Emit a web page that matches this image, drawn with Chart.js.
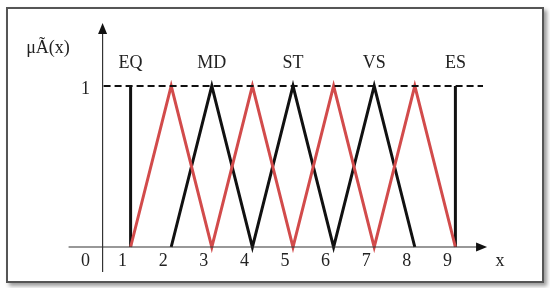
<!DOCTYPE html>
<html>
<head>
<meta charset="utf-8">
<script src="https://cdn.jsdelivr.net/npm/chart.js@4.4.1/dist/chart.umd.min.js"></script>
<style>
    html, body { margin: 0; padding: 0; background: #fff; }
    #wrap { position: relative; width: 550px; height: 288px; }
    #frame {
        position: absolute; left: 6px; top: 7px; width: 534px; height: 272px;
        border: 2px solid #555; box-shadow: 3px 3px 4px #999; background: #fff;
    }
    canvas { position: absolute; left: 0; top: 0; }
</style>
</head>
<body>
<div id="wrap">
    <div id="frame"></div>
    <canvas id="chart" width="550" height="288"></canvas>
</div>
<script>
// Tick labels on the x axis and the membership axis
const xTickLabels = ['1', '2', '3', '4', '5', '6', '7', '8', '9'];
const xTickValues = [1, 2, 3, 4, 5, 6, 7, 8, 9];
const yTickLabels = ['1'];

// Linguistic terms and where they sit
const terms = ['EQ', 'MD', 'ST', 'VS', 'ES'];
const termPeaks = [1, 3, 5, 7, 9];

// Red zigzag (triangles peaking at 2, 4, 6, 8)
const redX = [1, 2, 3, 4, 5, 6, 7, 8, 9];
const redY = [0, 1, 0, 1, 0, 1, 0, 1, 0];

// Black zigzag (triangles peaking at 3, 5, 7)
const blackX = [2, 3, 4, 5, 6, 7, 8];
const blackY = [0, 1, 0, 1, 0, 1, 0];

// Black edges at the ends
const leftEdgeX = [1, 1];
const leftEdgeY = [0, 1];
const rightEdgeX = [9, 9];
const rightEdgeY = [0, 1];

const RED = '#d24b4b';
const BLACK = '#111';
const TEXT = '#222';
const SERIF = '"Liberation Serif", "DejaVu Serif", serif';

const toPoints = (xs, ys) => xs.map((x, i) => ({ x, y: ys[i] }));

function lineDs(data, color) {
    return {
        data,
        borderColor: color,
        borderWidth: 3,
        pointRadius: 0,
        fill: false,
        tension: 0,
        clip: false,
        borderJoinStyle: 'miter',
    };
}

// Axes, arrows, dashed top line and all text
const decorations = {
    id: 'decorations',
    afterDatasetsDraw(chart) {
        const { ctx } = chart;
        const xs = chart.scales.x;
        const ys = chart.scales.y;
        const y0 = ys.getPixelForValue(0);
        const y1 = ys.getPixelForValue(1);
        const axisX = xs.getPixelForValue(0.31);
        const xEnd = xs.getPixelForValue(9.78);

        ctx.save();
        ctx.strokeStyle = '#333';
        ctx.fillStyle = '#111';
        ctx.lineWidth = 1.2;

        // y axis
        ctx.beginPath();
        ctx.moveTo(axisX, y0 + 25);
        ctx.lineTo(axisX, 30);
        ctx.stroke();
        ctx.beginPath();
        ctx.moveTo(axisX, 23);
        ctx.lineTo(axisX - 4.5, 34);
        ctx.lineTo(axisX + 4.5, 34);
        ctx.closePath();
        ctx.fill();

        // x axis
        ctx.beginPath();
        ctx.moveTo(axisX - 34, y0);
        ctx.lineTo(xEnd - 6, y0);
        ctx.stroke();
        ctx.beginPath();
        ctx.moveTo(xEnd, y0);
        ctx.lineTo(xEnd - 11, y0 - 4.5);
        ctx.lineTo(xEnd - 11, y0 + 4.5);
        ctx.closePath();
        ctx.fill();

        // dashed line at membership 1
        ctx.strokeStyle = '#111';
        ctx.lineWidth = 2;
        ctx.setLineDash([7, 4]);
        ctx.beginPath();
        ctx.moveTo(axisX + 1, y1);
        ctx.lineTo(xs.getPixelForValue(9.68), y1);
        ctx.stroke();
        ctx.setLineDash([]);

        // text
        ctx.fillStyle = TEXT;
        ctx.font = '18px ' + SERIF;
        ctx.textAlign = 'center';
        ctx.textBaseline = 'middle';
        xTickValues.forEach((v, i) => {
            ctx.fillText(xTickLabels[i], xs.getPixelForValue(v) - 8, y0 + 14);
        });
        ctx.fillText('0', axisX - 17, y0 + 14);
        ctx.fillText(yTickLabels[0], axisX - 17, y1 + 3);
        terms.forEach((t, i) => {
            ctx.fillText(t, xs.getPixelForValue(termPeaks[i]), y1 - 23);
        });
        ctx.fillText('x', xEnd + 13, y0 + 14);
        ctx.fillText('μÃ(x)', 48, 48);
        ctx.restore();
    },
};

new Chart(document.getElementById('chart'), {
    type: 'line',
    data: {
        datasets: [
            lineDs(toPoints(redX, redY), RED),
            lineDs(toPoints(blackX, blackY), BLACK),
            lineDs(toPoints(leftEdgeX, leftEdgeY), BLACK),
            lineDs(toPoints(rightEdgeX, rightEdgeY), BLACK),
        ],
    },
    options: {
        responsive: false,
        animation: false,
        devicePixelRatio: 1,
        layout: { padding: { left: 90, right: 54, top: 86, bottom: 41 } },
        plugins: { legend: { display: false }, tooltip: { enabled: false } },
        scales: {
            x: { type: 'linear', min: 0, max: 10, display: false },
            y: { type: 'linear', min: 0, max: 1, display: false },
        },
    },
    plugins: [decorations],
});
</script>
</body>
</html>
